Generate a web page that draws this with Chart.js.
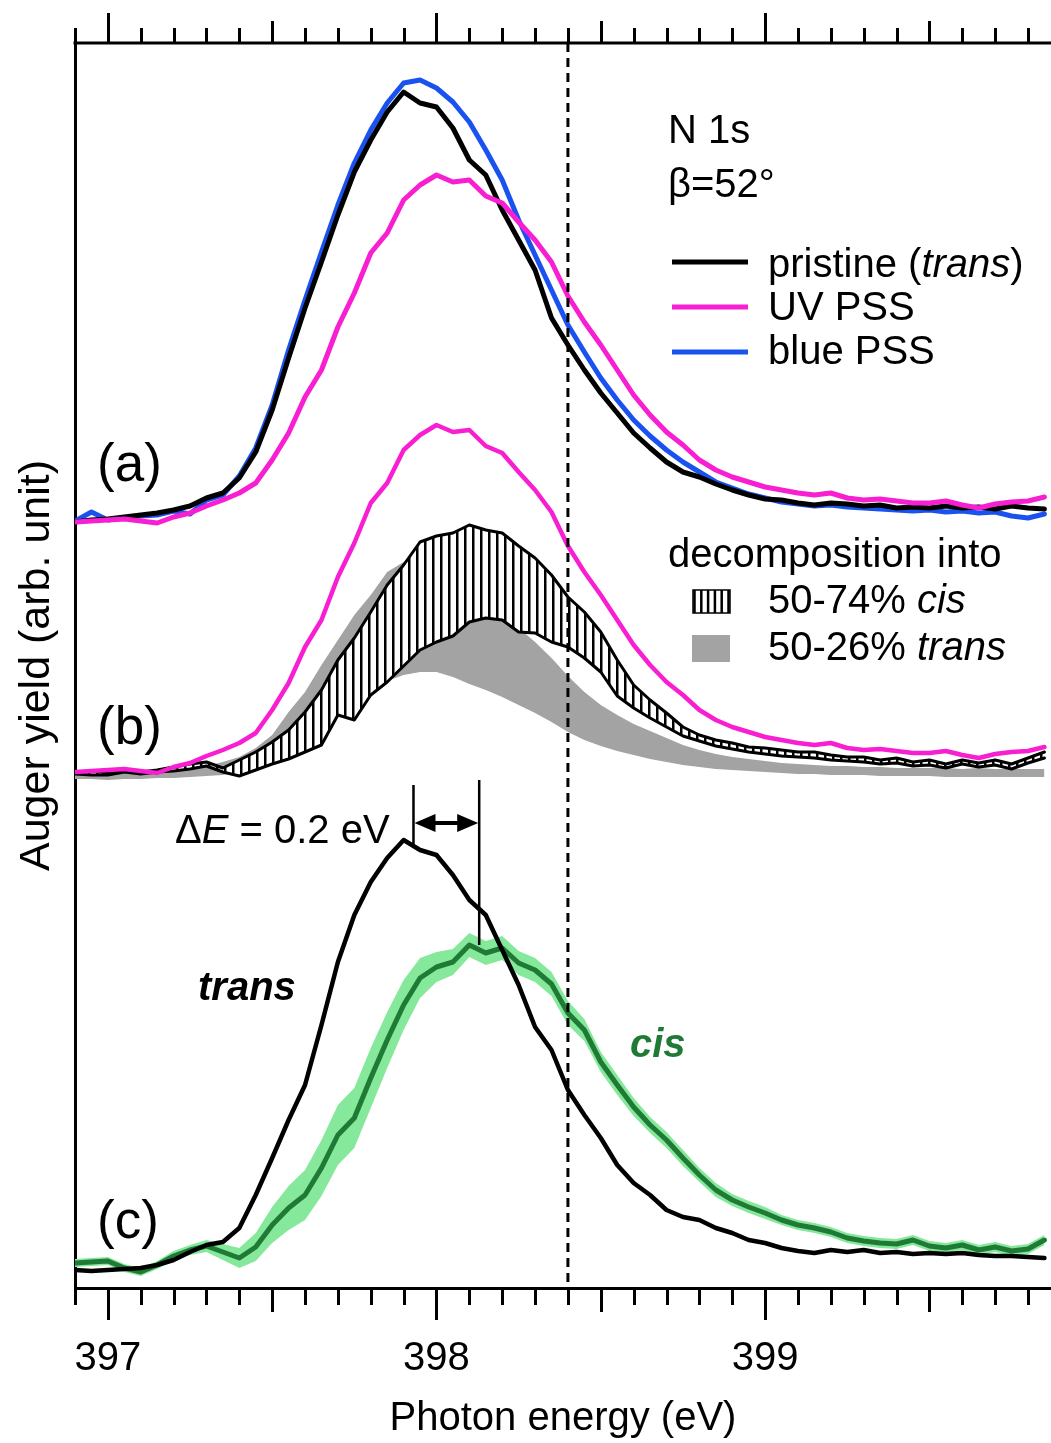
<!DOCTYPE html>
<html><head><meta charset="utf-8">
<script src="https://cdn.jsdelivr.net/npm/chart.js@4.4.0/dist/chart.umd.min.js"></script>
<style>html,body{margin:0;padding:0;background:#fff;overflow:hidden}canvas{display:block}</style>
</head><body>
<canvas id="c" width="1051" height="1443"></canvas>
<script>
// Photon energies (eV)
const energies = [396.9,396.95,397.0,397.05,397.1,397.15,397.2,397.25,397.3,397.35,397.4,397.45,397.5,397.55,397.6,397.65,397.7,397.75,397.8,397.85,397.9,397.95,398.0,398.05,398.1,398.15,398.2,398.25,398.3,398.35,398.4,398.45,398.5,398.55,398.6,398.65,398.7,398.75,398.8,398.85,398.9,398.95,399.0,399.05,399.1,399.15,399.2,399.25,399.3,399.35,399.4,399.45,399.5,399.55,399.6,399.65,399.7,399.75,399.8,399.85];
const xTicks = [397, 398, 399];

// (a) spectra (arb. units, stacked)
const pristine = [766,768,769,771,773,775,778,782,790,795,810,836,878,930,980,1026,1073,1116,1148,1176,1196,1185,1181,1160,1128,1113,1078,1048,1018,970,943,918,895,875,855,840,826,816,811,804,798,793,789,788,785,783,785,784,782,783,780,781,780,782,780,781,779,782,780,779];
const uvPSS = [766,767,768,769,767,765,771,775,782,788,795,805,828,855,891,918,961,995,1035,1055,1088,1103,1113,1106,1108,1092,1085,1066,1048,1026,992,966,943,918,893,873,856,843,828,818,811,806,801,798,795,793,795,790,788,789,787,785,785,787,783,780,784,786,787,791];
const bluePSS = [767,776,768,770,772,773,777,774,788,793,812,840,883,938,988,1036,1083,1125,1158,1185,1205,1208,1200,1186,1166,1138,1108,1068,1033,998,963,936,910,888,868,852,838,826,816,806,800,794,790,786,784,782,783,781,780,779,778,777,778,776,777,775,776,772,770,774];
const uvOffsetB = -250;

// (b) decomposition
const cisUpper74 = [516,517,515,518,516,518,521,524,526,520,528,536,546,558,576,598,628,650,676,703,723,746,752,755,763,758,755,742,730,713,691,676,656,628,603,588,575,561,553,548,545,541,540,538,536,536,533,531,531,528,530,526,528,524,528,525,528,524,530,536];
const cisLower50 = [514,513,513,516,514,516,517,519,522,516,512,518,524,529,536,543,573,568,593,606,622,638,646,652,666,670,668,656,655,646,641,630,616,592,580,570,561,552,547,542,539,536,534,532,531,530,528,527,526,524,525,522,523,520,524,521,523,519,525,530];
const transUpper50 = [515,515,514,515,515,516,517,519,522,526,531,540,553,576,596,623,648,673,693,716,726,732,728,718,703,688,673,660,646,630,612,596,583,573,564,557,550,543,538,534,531,529,527,525,524,523,522,522,521,521,520,520,520,520,519,520,519,519,519,519];
const transLower26 = [509,509,508,509,509,510,510,511,512,513,516,523,532,540,550,562,576,588,598,607,613,616,616,611,604,598,591,583,575,566,556,548,542,537,533,529,526,523,521,519,518,517,516,515,514,514,513,513,513,512,512,512,512,511,511,511,511,511,511,511];

// (c) extracted spectra
const transSpectrum = [18,17,18,19,20,23,28,36,43,46,60,93,130,168,203,263,326,373,406,430,448,438,433,413,388,373,338,303,261,238,198,173,150,123,105,93,78,71,68,60,55,48,45,40,37,35,38,36,38,35,36,34,35,34,35,33,32,32,31,30];
const cisSpectrum = [25,26,27,20,16,23,32,38,42,36,30,41,63,80,93,120,153,170,210,248,283,310,321,326,343,335,340,325,318,304,275,258,226,203,181,163,148,130,113,98,88,81,75,68,63,60,56,50,47,45,44,48,42,40,43,38,41,37,39,48];
const cisRangeHi = [29,30,31,24,20,27,37,43,48,44,40,55,81,102,118,148,183,200,240,276,308,330,336,339,355,347,352,337,330,316,287,269,236,213,190,171,156,138,120,105,94,87,81,73,68,65,61,55,52,50,49,53,47,45,48,43,46,42,44,53];
const cisRangeLo = [21,22,23,16,12,19,27,33,36,28,20,27,45,58,68,92,123,140,180,220,258,290,306,313,331,323,328,313,306,292,263,247,216,193,172,155,140,122,106,91,82,75,69,63,58,55,51,45,42,40,39,43,37,35,38,33,36,32,34,43];

// annotations
const markerEnergy = 398.4;
const deltaE = {from: 397.93, to: 398.13, arrowY: 465, leftLine: [440, 503], rightLine: [343, 508]};

const FONT = "'Liberation Sans', Arial, sans-serif";
Chart.defaults.font.family = FONT;
Chart.defaults.color = '#000';

const pts = arr => energies.map((e, i) => ({x: e, y: arr[i]}));

const hatchCanvas = document.createElement('canvas');
hatchCanvas.width = 8; hatchCanvas.height = 8;
{ const h = hatchCanvas.getContext('2d'); h.fillStyle = '#fff'; h.fillRect(0,0,8,8); h.fillStyle = '#000'; h.fillRect(0,0,2.5,8); }
const ctx0 = document.getElementById('c').getContext('2d');
const hatch = ctx0.createPattern(hatchCanvas, 'repeat');

const MAG = '#f81fd2', BLUE = '#1a52f0', GRAY = '#a3a3a3', GREEN = '#1f7a35', LGREEN = '#86e89a';

const line = (label, arr, color, width, order, extra) => Object.assign({
  label, data: pts(arr), borderColor: color, borderWidth: width, pointRadius: 0,
  fill: false, order, borderJoinStyle: 'round', borderCapStyle: 'round'
}, extra || {});

const datasets = [
  line('pristine (trans)', pristine, '#000', 5, 1),                       //0
  line('UV PSS', uvPSS, MAG, 5, 0),                                       //1
  line('blue PSS', bluePSS, BLUE, 5, 2),                                  //2
  line('UV PSS (b)', uvPSS.map(v => v + uvOffsetB), MAG, 4.5, 3),         //3
  line('50-74% cis upper', cisUpper74, '#000', 3, 6, {fill: {target: 5}, backgroundColor: hatch}), //4
  line('50-74% cis lower', cisLower50, '#000', 3, 5),                     //5
  line('50-26% trans upper', transUpper50, GRAY, 0, 8, {fill: {target: 7}, backgroundColor: GRAY}), //6
  line('50-26% trans lower', transLower26, GRAY, 0, 7),                   //7
  line('trans', transSpectrum, '#000', 4.5, 9),                           //8
  line('cis', cisSpectrum, GREEN, 5, 10),                                 //9
  line('cis range hi', cisRangeHi, LGREEN, 0, 12, {fill: {target: 11}, backgroundColor: LGREEN}), //10
  line('cis range lo', cisRangeLo, LGREEN, 0, 11)                         //11
];

function rich(ctx, parts, x, y, size, color) {
  let cx = x;
  for (const [t, style] of parts) {
    ctx.font = `${style} ${size}px ${FONT}`;
    ctx.fillStyle = color || '#000';
    ctx.fillText(t, cx, y);
    cx += ctx.measureText(t).width;
  }
}

const decor = {
  id: 'decor',
  afterDatasetsDraw(chart) {
    const {ctx, chartArea: ca, scales: {x, y}} = chart;
    ctx.save();
    ctx.strokeStyle = '#000'; ctx.lineWidth = 3; ctx.lineCap = 'butt';
    // top axis
    ctx.beginPath(); ctx.moveTo(ca.left - 1.5, ca.top); ctx.lineTo(ca.right, ca.top); ctx.stroke();
    // tick marks (top & bottom)
    const n0 = Math.ceil(x.min * 10 - 1e-6), n1 = Math.floor(x.max * 10 + 1e-6);
    for (let n = n0; n <= n1; n++) {
      const px = Math.round(x.getPixelForValue(n / 10)) + 0.5;
      const big = n % 10 === 0, mid = n % 5 === 0;
      const lb = big ? 32 : (mid ? 24 : 17);
      const lt = big ? 30 : (mid ? 22 : 15);
      ctx.beginPath(); ctx.moveTo(px, ca.bottom); ctx.lineTo(px, ca.bottom + lb); ctx.stroke();
      ctx.beginPath(); ctx.moveTo(px, ca.top); ctx.lineTo(px, ca.top - lt); ctx.stroke();
    }
    // dashed marker line
    const mx = x.getPixelForValue(markerEnergy);
    ctx.setLineDash([9, 6]); ctx.lineWidth = 3;
    ctx.beginPath(); ctx.moveTo(mx, ca.top); ctx.lineTo(mx, ca.bottom); ctx.stroke();
    ctx.setLineDash([]);
    // delta E marker
    const x1 = x.getPixelForValue(deltaE.from), x2 = x.getPixelForValue(deltaE.to);
    ctx.lineWidth = 2.5;
    ctx.beginPath(); ctx.moveTo(x1, y.getPixelForValue(deltaE.leftLine[1])); ctx.lineTo(x1, y.getPixelForValue(deltaE.leftLine[0])); ctx.stroke();
    ctx.beginPath(); ctx.moveTo(x2, y.getPixelForValue(deltaE.rightLine[1])); ctx.lineTo(x2, y.getPixelForValue(deltaE.rightLine[0])); ctx.stroke();
    const ay = y.getPixelForValue(deltaE.arrowY);
    ctx.lineWidth = 4;
    ctx.beginPath(); ctx.moveTo(x1 + 10, ay); ctx.lineTo(x2 - 10, ay); ctx.stroke();
    ctx.fillStyle = '#000';
    ctx.beginPath(); ctx.moveTo(x1 + 1, ay); ctx.lineTo(x1 + 22, ay - 9); ctx.lineTo(x1 + 22, ay + 9); ctx.closePath(); ctx.fill();
    ctx.beginPath(); ctx.moveTo(x2 - 1, ay); ctx.lineTo(x2 - 22, ay - 9); ctx.lineTo(x2 - 22, ay + 9); ctx.closePath(); ctx.fill();

    // texts
    ctx.textBaseline = 'alphabetic'; ctx.textAlign = 'left';
    rich(ctx, [['N 1s', 'normal']], 668, 143, 40);
    rich(ctx, [['\u03B2=52\u00B0', 'normal']], 668, 197, 40);
    // legend (a)
    const leg = [[262, 277, '#000', [['pristine (', 'normal'], ['trans', 'italic'], [')', 'normal']]],
                 [307, 320, MAG, [['UV PSS', 'normal']]],
                 [352, 364, BLUE, [['blue PSS', 'normal']]]];
    for (const [ly, ty, col, parts] of leg) {
      ctx.strokeStyle = col; ctx.lineWidth = 5;
      ctx.beginPath(); ctx.moveTo(672, ly); ctx.lineTo(748, ly); ctx.stroke();
      rich(ctx, parts, 768, ty, 40);
    }
    // legend (b)
    rich(ctx, [['decomposition into', 'normal']], 668, 567, 40);
    ctx.fillStyle = '#fff'; ctx.fillRect(693, 590, 37, 23);
    ctx.strokeStyle = '#000'; ctx.lineWidth = 1.5; ctx.strokeRect(693, 590, 37, 23);
    ctx.lineWidth = 2.5;
    for (let i = 0; i < 6; i++) { const hx = 694.5 + i * 6.8; ctx.beginPath(); ctx.moveTo(hx, 590); ctx.lineTo(hx, 613); ctx.stroke(); }
    rich(ctx, [['50-74% ', 'normal'], ['cis', 'italic']], 768, 613, 40);
    ctx.fillStyle = GRAY; ctx.fillRect(692, 635, 38, 27);
    rich(ctx, [['50-26% ', 'normal'], ['trans', 'italic']], 768, 660, 40);
    // panel labels
    rich(ctx, [['(a)', 'normal']], 97, 481, 53);
    rich(ctx, [['(b)', 'normal']], 97, 744, 53);
    rich(ctx, [['(c)', 'normal']], 97, 1238, 53);
    // delta E label
    rich(ctx, [['\u0394', 'normal'], ['E', 'italic'], [' = 0.2 eV', 'normal']], 175, 843, 40);
    rich(ctx, [['trans', 'italic bold']], 198, 1000, 40);
    rich(ctx, [['cis', 'italic bold']], 630, 1057, 40, GREEN);
    ctx.restore();
  }
};

new Chart(ctx0, {
  type: 'line',
  data: {datasets},
  options: {
    responsive: false, animation: false, devicePixelRatio: 1,
    layout: {padding: {left: 0, top: 43, right: 0, bottom: 0}},
    plugins: {legend: {display: false}, tooltip: {enabled: false}},
    elements: {point: {radius: 0}, line: {tension: 0}},
    scales: {
      x: {
        type: 'linear', min: 396.9, max: 399.87,
        afterBuildTicks: s => { s.ticks = xTicks.map(v => ({value: v})); },
        afterFit: s => { s.height = 155; s.paddingLeft = 0; s.paddingRight = 0; },
        ticks: {padding: 47, color: '#000', font: {size: 40}, maxRotation: 0, autoSkip: false, callback: v => String(v)},
        grid: {display: false, drawTicks: false},
        border: {display: true, color: '#000', width: 3},
        title: {display: true, text: 'Photon energy (eV)', color: '#000', font: {size: 40}, padding: {top: 14, bottom: 0}}
      },
      y: {
        min: 0, max: 1245,
        afterFit: s => { s.width = 75; },
        ticks: {display: false},
        grid: {display: false, drawTicks: false},
        border: {display: true, color: '#000', width: 3},
        title: {display: true, text: 'Auger yield (arb. unit)', color: '#000', font: {size: 43}, padding: {top: 11, bottom: 12}}
      }
    }
  },
  plugins: [decor]
});
</script>
</body></html>
